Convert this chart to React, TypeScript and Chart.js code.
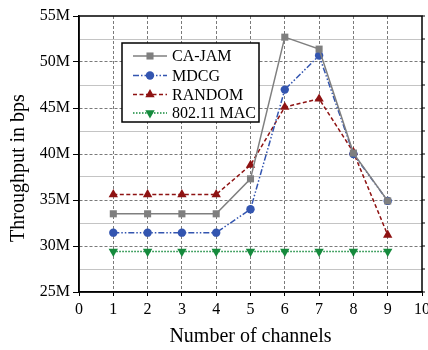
import React, { useEffect, useRef } from "react";
import { Chart, registerables } from "chart.js";

Chart.register(...registerables);

const channels = [1, 2, 3, 4, 5, 6, 7, 8, 9];
const caJam = [33.5, 33.5, 33.5, 33.5, 37.3, 52.7, 51.4, 40.1, 34.9];
const mdcg = [31.45, 31.45, 31.45, 31.45, 34.0, 47.0, 50.7, 40.0, 34.9];
const randomCh = [35.6, 35.6, 35.6, 35.6, 38.8, 45.1, 46.0, 40.2, 31.2];
const mac80211 = [29.4, 29.4, 29.4, 29.4, 29.4, 29.4, 29.4, 29.4, 29.4];
const seriesNames = ["CA-JAM", "MDCG", "RANDOM", "802.11 MAC"];
const xTitle = "Number of channels";
const yTitle = "Throughput in bps";

const FONT = "'Liberation Serif', 'Times New Roman', Times, serif";

const styles = [
  { color: "#7f7f7f", dash: [] as number[], point: "rect", radius: 5, rotation: 0 },
  { color: "#3355b0", dash: [6, 2, 1.5, 2, 1.5, 2], point: "circle", radius: 4.2, rotation: 0 },
  { color: "#8e1212", dash: [4, 2.5], point: "triangle", radius: 5.4, rotation: 0 },
  { color: "#158a3c", dash: [1.5, 1.5], point: "triangle", radius: 5.4, rotation: 180 },
];

const seriesData = [caJam, mdcg, randomCh, mac80211];

function drawMarker(ctx: CanvasRenderingContext2D, kind: string, rot: number, x: number, y: number, r: number) {
  ctx.beginPath();
  if (kind === "rect") {
    const s = Math.SQRT1_2 * r;
    ctx.rect(x - s, y - s, 2 * s, 2 * s);
  } else if (kind === "circle") {
    ctx.arc(x, y, r, 0, Math.PI * 2);
  } else {
    const dir = rot === 180 ? -1 : 1;
    const h = r * 0.866;
    ctx.moveTo(x, y - dir * r);
    ctx.lineTo(x - h, y + dir * r * 0.5);
    ctx.lineTo(x + h, y + dir * r * 0.5);
    ctx.closePath();
  }
  ctx.fill();
}

const framePlugin = {
  id: "frame",
  afterDatasetsDraw(chart: any) {
    const { ctx, chartArea } = chart;
    const { left, right, top, bottom } = chartArea;
    ctx.save();
    ctx.strokeStyle = "#000";
    ctx.lineWidth = 1.5;
    ctx.setLineDash([]);
    ctx.strokeRect(left, top, right - left, bottom - top);
    const ys = chart.scales.y;
    ctx.lineWidth = 1;
    for (let v = 25; v <= 55.001; v += 2.5) {
      const py = ys.getPixelForValue(v);
      ctx.beginPath();
      ctx.moveTo(right, py);
      ctx.lineTo(right + 3, py);
      ctx.stroke();
    }
    ctx.restore();
  },
};

const legendPlugin = {
  id: "boxLegend",
  afterDraw(chart: any) {
    const { ctx } = chart;
    const bx = 122, by = 43, bw = 137, bh = 79;
    ctx.save();
    ctx.fillStyle = "#fff";
    ctx.fillRect(bx, by, bw, bh);
    ctx.strokeStyle = "#000";
    ctx.lineWidth = 1.5;
    ctx.setLineDash([]);
    ctx.strokeRect(bx, by, bw, bh);
    const rows = [56, 75.5, 94.5, 113];
    seriesNames.forEach((name, i) => {
      const st = styles[i];
      const y = rows[i];
      ctx.strokeStyle = st.color;
      ctx.lineWidth = 1.5;
      ctx.setLineDash(st.dash);
      ctx.beginPath();
      ctx.moveTo(133, y);
      ctx.lineTo(167, y);
      ctx.stroke();
      ctx.setLineDash([]);
      ctx.fillStyle = st.color;
      drawMarker(ctx, st.point, st.rotation, 150, y, st.radius);
      ctx.fillStyle = "#000";
      ctx.font = `16px ${FONT}`;
      ctx.textAlign = "left";
      ctx.textBaseline = "middle";
      ctx.fillText(name, 172, y + 1);
    });
    ctx.save();
    ctx.translate(19, 168);
    ctx.rotate(-Math.PI / 2);
    ctx.font = `20px ${FONT}`;
    ctx.textAlign = "center";
    ctx.textBaseline = "middle";
    ctx.fillStyle = "#000";
    ctx.fillText(yTitle, 0, 0);
    ctx.restore();
    ctx.restore();
  },
};

export default function App() {
  const ref = useRef<HTMLCanvasElement | null>(null);

  useEffect(() => {
    if (!ref.current) return;
    const datasets = seriesNames.map((name, i) => ({
      label: name,
      data: channels.map((c, j) => ({ x: c, y: seriesData[i][j] })),
      borderColor: styles[i].color,
      backgroundColor: styles[i].color,
      borderWidth: 1.5,
      borderDash: styles[i].dash,
      pointStyle: styles[i].point,
      pointRotation: styles[i].rotation,
      pointRadius: styles[i].radius,
      pointBorderWidth: 0,
      pointBackgroundColor: styles[i].color,
      tension: 0,
      fill: false,
    }));

    const chart = new Chart(ref.current, {
      type: "line",
      data: { datasets },
      plugins: [framePlugin, legendPlugin],
      options: {
        animation: false,
        responsive: false,
        devicePixelRatio: 1,
        layout: { padding: { top: 16, right: 28, bottom: 0, left: 0 } },
        plugins: { legend: { display: false }, tooltip: { enabled: false } },
        scales: {
          x: {
            type: "linear",
            min: 0,
            max: 10,
            afterFit: (s: any) => {
              s.height = 58;
            },
            ticks: {
              stepSize: 1,
              color: "#000",
              font: { family: FONT, size: 16 },
              padding: 4,
              maxRotation: 0,
            },
            grid: {
              color: (c: any) =>
                c.tick && (c.tick.value === 0 || c.tick.value === 10) ? "rgba(0,0,0,0)" : "#7a7a7a",
              lineWidth: 1,
              tickColor: "#000",
              tickLength: 4,
              tickWidth: 1,
              tickBorderDash: [],
            },
            border: {
              color: "#000",
              width: 1.5,
              dash: (c: any) => (c.tick ? [3, 2] : []),
            },
            title: {
              display: true,
              text: xTitle,
              color: "#000",
              font: { family: FONT, size: 20 },
              padding: { top: 0, bottom: 1 },
            },
          },
          y: {
            type: "linear",
            min: 25,
            max: 55,
            afterFit: (s: any) => {
              s.width = 79;
            },
            ticks: {
              stepSize: 2.5,
              color: "#000",
              font: { family: FONT, size: 16 },
              padding: 3,
              callback: (v: any) => (Math.abs(v % 5) < 1e-6 ? `${v}M` : ""),
            },
            grid: {
              color: (c: any) => {
                if (!c.tick) return "#7a7a7a";
                const v = c.tick.value;
                if (v === 25 || v === 55) return "rgba(0,0,0,0)";
                return Math.abs(v % 5) < 1e-6 ? "#7a7a7a" : "#c4c4c4";
              },
              lineWidth: 1,
              tickColor: (c: any) =>
                c.tick && Math.abs(c.tick.value % 5) < 1e-6 ? "#000" : "rgba(0,0,0,0)",
              tickLength: 6,
              tickWidth: 1,
              tickBorderDash: [],
            },
            border: {
              color: "#000",
              width: 1.5,
              dash: (c: any) => (c.tick && Math.abs(c.tick.value % 5) < 1e-6 ? [3, 2] : []),
            },
            title: { display: false },
          },
        },
      } as any,
    });
    return () => chart.destroy();
  }, []);

  return (
    <div
      style={{
        position: "fixed",
        left: 0,
        top: 0,
        width: 428,
        height: 350,
        overflow: "hidden",
        background: "#fff",
      }}
    >
      <canvas ref={ref} width={450} height={350} style={{ width: 450, height: 350, display: "block" }} />
    </div>
  );
}
